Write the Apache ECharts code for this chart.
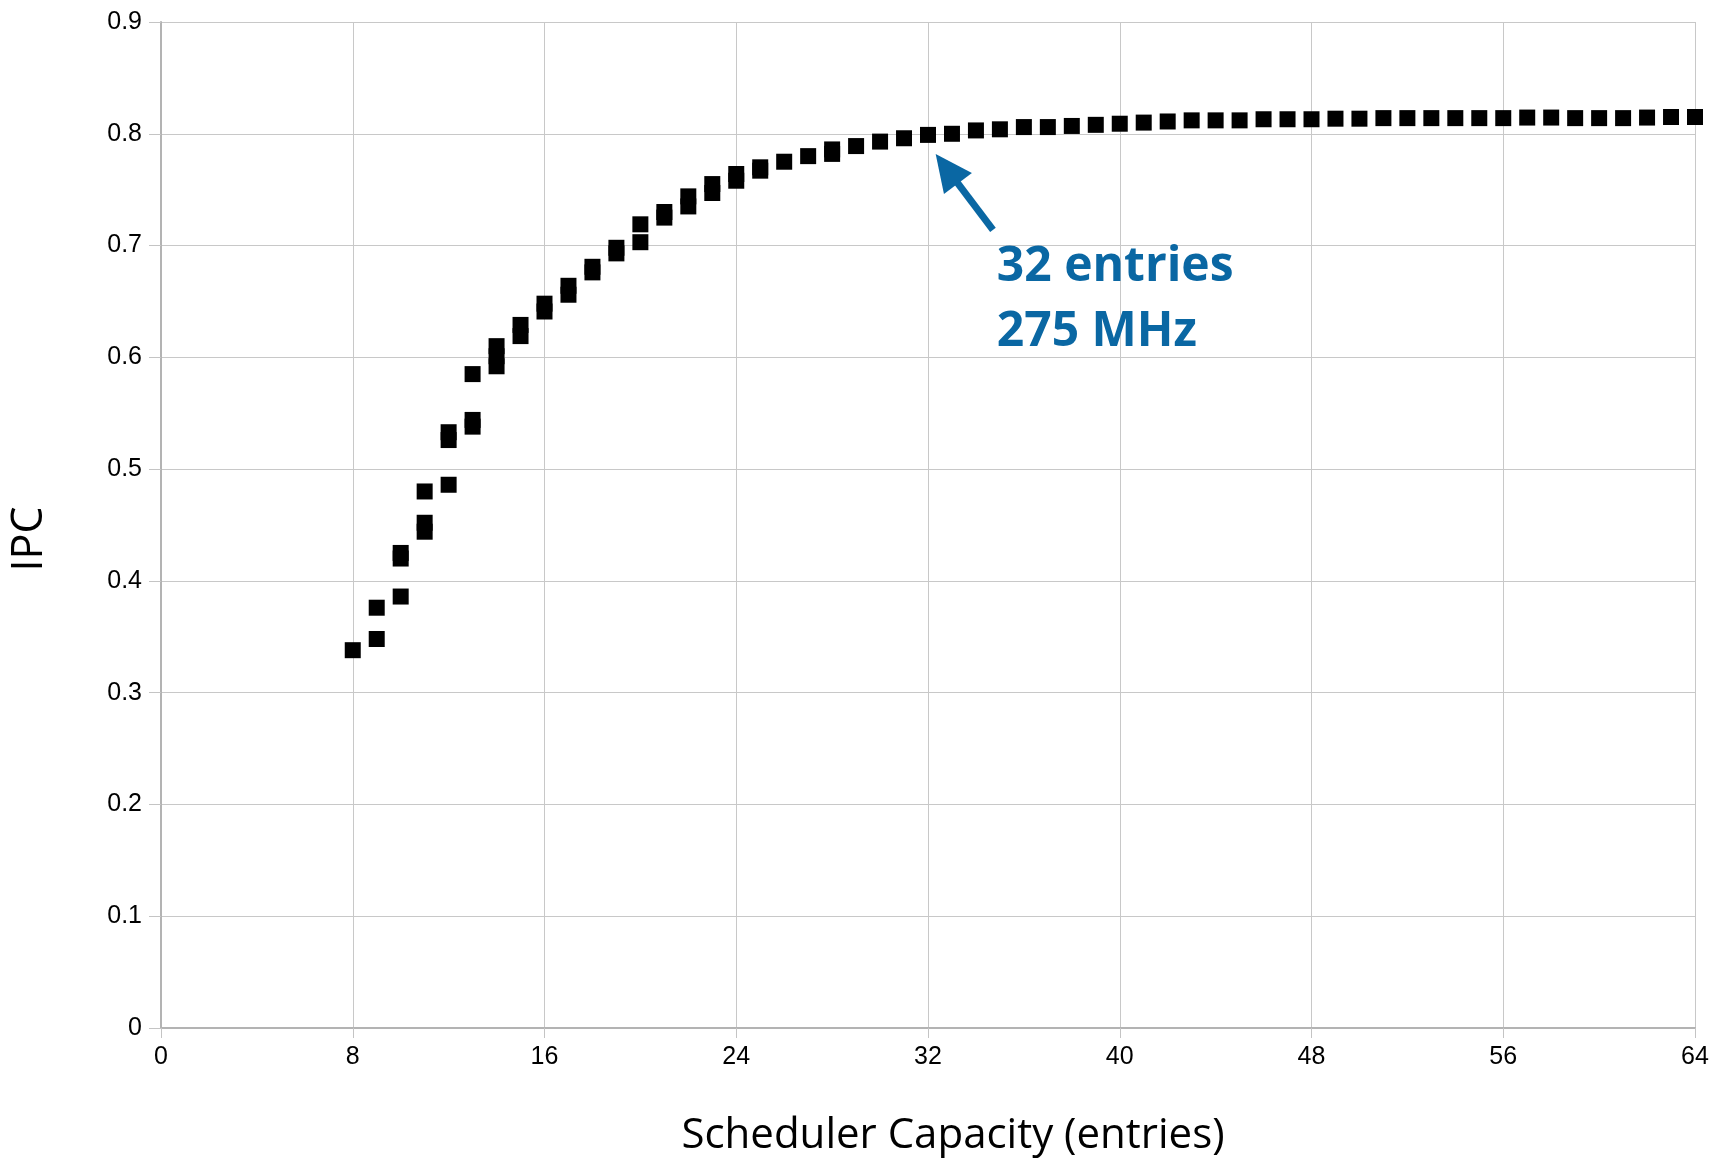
<!DOCTYPE html>
<html>
<head>
<meta charset="utf-8">
<script src="https://cdn.jsdelivr.net/npm/echarts@6/dist/echarts.min.js"></script>
<style>
html,body{margin:0;padding:0;background:#fff;}
#chart{width:1722px;height:1159px;}
</style>
</head>
<body>
<div id="chart"></div>
<script>
// Scheduler capacity (entries) for each measured point
const capacity = [
  8,
  9, 9,
  10, 10, 10,
  11, 11, 11,
  12, 12, 12,
  13, 13, 13,
  14, 14, 14,
  15, 15,
  16, 16,
  17, 17,
  18, 18,
  19, 19,
  20, 20,
  21, 21,
  22, 22,
  23, 23,
  24, 24,
  25, 25,
  26, 27, 28, 28, 29, 30, 31, 32, 33, 34, 35, 36, 37, 38, 39, 40,
  41, 42, 43, 44, 45, 46, 47, 48, 49, 50, 51, 52, 53, 54, 55, 56,
  57, 58, 59, 60, 61, 62, 63, 64
];
// IPC for each point (same order as capacity)
const ipc = [
  0.338,
  0.376, 0.348,
  0.386, 0.425, 0.420,
  0.480, 0.452, 0.444,
  0.486, 0.533, 0.526,
  0.585, 0.544, 0.538,
  0.610, 0.601, 0.592,
  0.629, 0.619,
  0.648, 0.641,
  0.664, 0.656,
  0.681, 0.676,
  0.698, 0.693,
  0.719, 0.703,
  0.730, 0.725,
  0.744, 0.735,
  0.755, 0.747,
  0.764, 0.758,
  0.770, 0.767,
  0.775, 0.780, 0.786, 0.782, 0.789, 0.793, 0.796, 0.799, 0.800, 0.803, 0.804, 0.806, 0.806, 0.807, 0.808, 0.809,
  0.810, 0.811, 0.812, 0.812, 0.812, 0.813, 0.813, 0.813, 0.8135, 0.8135, 0.814, 0.814, 0.814, 0.814, 0.814, 0.814,
  0.8145, 0.8145, 0.814, 0.814, 0.814, 0.8145, 0.815, 0.815
];
const xTicks = [0, 8, 16, 24, 32, 40, 48, 56, 64];
const yTicks = [0, 0.1, 0.2, 0.3, 0.4, 0.5, 0.6, 0.7, 0.8, 0.9];
const xTitle = 'Scheduler Capacity (entries)';
const yTitle = 'IPC';
const noteLines = ['32 entries', '275 MHz'];
// annotation anchor points in data space
const arrowTip = [32.32, 0.782];
const arrowTail = [34.71, 0.714];
const noteAt = [34.87, 0.659];

const points = capacity.map((c, i) => [c, ipc[i]]);
const chart = echarts.init(document.getElementById('chart'), null, {renderer: 'canvas'});

const option = {
  animation: false,
  backgroundColor: '#ffffff',
  grid: {left: 161, right: 27, top: 22, bottom: 131, containLabel: false},
  xAxis: {
    type: 'value',
    min: xTicks[0], max: xTicks[xTicks.length - 1], interval: 8,
    axisLine: {show: true, onZero: false, lineStyle: {color: '#b3b3b3', width: 2}},
    axisTick: {show: true, length: 10, lineStyle: {color: '#c4c4c4', width: 1}},
    axisLabel: {margin: 17, color: '#000', fontFamily: 'Liberation Sans', fontSize: 25},
    splitLine: {show: true, lineStyle: {color: '#c8c8c8', width: 1}}
  },
  yAxis: {
    type: 'value',
    min: yTicks[0], max: yTicks[yTicks.length - 1], interval: 0.1,
    axisLine: {show: true, onZero: false, lineStyle: {color: '#b3b3b3', width: 2}},
    axisTick: {show: true, length: 12, lineStyle: {color: '#c4c4c4', width: 1}},
    axisLabel: {margin: 19, color: '#000', fontFamily: 'Liberation Sans', fontSize: 25,
      formatter: v => String(Math.round(v * 10) / 10)},
    splitLine: {show: true, lineStyle: {color: '#c8c8c8', width: 1}}
  },
  series: [{
    type: 'scatter',
    data: points,
    symbol: 'rect',
    symbolSize: 16,
    itemStyle: {color: '#000000', opacity: 1},
    emphasis: {disabled: true},
    z: 5
  }]
};
chart.setOption(option);

const tip = chart.convertToPixel({gridIndex: 0}, arrowTip);
const tail = chart.convertToPixel({gridIndex: 0}, arrowTail);
const note = chart.convertToPixel({gridIndex: 0}, noteAt);
const dx = tip[0] - tail[0], dy = tip[1] - tail[1];
const len = Math.sqrt(dx * dx + dy * dy);
const ux = dx / len, uy = dy / len;
const headLen = 37, headHalf = 17.5;
const base = [tip[0] - ux * headLen, tip[1] - uy * headLen];
const px = -uy, py = ux;
const blue = '#0a67a3';

chart.setOption({
  graphic: [
    {type: 'line', z: 10, shape: {x1: tail[0], y1: tail[1], x2: base[0] + ux * 2, y2: base[1] + uy * 2},
      style: {stroke: blue, lineWidth: 7, lineCap: 'butt'}},
    {type: 'polygon', z: 10, shape: {points: [tip, [base[0] + px * headHalf, base[1] + py * headHalf], [base[0] - px * headHalf, base[1] - py * headHalf]]},
      style: {fill: blue}},
    {type: 'text', z: 10, x: note[0], y: note[1],
      style: {text: noteLines[0], fill: blue, font: 'bold 48px "Open Sans"', textAlign: 'left', textVerticalAlign: 'bottom'}},
    {type: 'text', z: 10, x: note[0], y: note[1] + 65,
      style: {text: noteLines[1], fill: blue, font: 'bold 48px "Open Sans"', textAlign: 'left', textVerticalAlign: 'bottom'}},
    {type: 'text', z: 10, x: 953, y: 1136,
      style: {text: xTitle, fill: '#000', font: '42px "Open Sans"', textAlign: 'center', textVerticalAlign: 'middle'}},
    {type: 'text', z: 10, x: 30, y: 539, rotation: Math.PI / 2,
      style: {text: yTitle, fill: '#000', font: '43px "Open Sans"', textAlign: 'center', textVerticalAlign: 'middle'}}
  ]
});
</script>
</body>
</html>
